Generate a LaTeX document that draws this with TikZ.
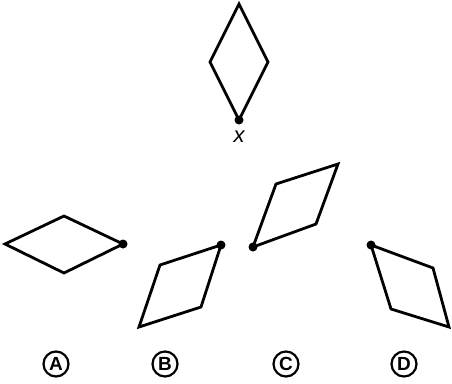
\documentclass[tikz,border=0pt]{standalone}
\usepackage{fontspec}
\setsansfont{Liberation Sans}
\usetikzlibrary{positioning}

\begin{document}
\begin{tikzpicture}[x=1pt,y=-1pt,line width=2.8pt,line join=miter,
    pivot/.style={circle,fill,inner sep=0pt,minimum size=9pt},
    choice/.style={circle,draw,line width=2.2pt,minimum size=25pt,inner sep=0pt,font=\sffamily\bfseries\fontsize{19}{19}\selectfont}]

            \useasboundingbox (0,0) rectangle (452,383);

            % original shape
            \coordinate (x1) at (239,4);
            \coordinate (x2) at (210,62);
            \coordinate (x) at (239,120);
            \coordinate (x4) at (268,62);
            \draw (x1) -- (x2) -- (x) -- (x4) -- cycle;
            \node[pivot] (px) at (x) {};
            \node[font=\sffamily\itshape\fontsize{22}{22}\selectfont, inner sep=0pt] (lx) [below=4pt of px] {x};

            % option A
            \coordinate (a1) at (123,244);
            \coordinate (a2) at (64,216);
            \coordinate (a3) at (5,244);
            \coordinate (a4) at (64,273);
            \draw (a1) -- (a2) -- (a3) -- (a4) -- cycle;
            \node[pivot] (pa) at (a1) {};

            % option B
            \coordinate (b1) at (221,245);
            \coordinate (b2) at (160,265);
            \coordinate (b3) at (139,327);
            \coordinate (b4) at (201,307);
            \draw (b1) -- (b2) -- (b3) -- (b4) -- cycle;
            \node[pivot] (pb) at (b1) {};

            % option C
            \coordinate (c1) at (253,247);
            \coordinate (c2) at (276,184);
            \coordinate (c3) at (338,164);
            \coordinate (c4) at (316,224);
            \draw (c1) -- (c2) -- (c3) -- (c4) -- cycle;
            \node[pivot] (pc) at (c1) {};

            % option D
            \coordinate (d1) at (371,245);
            \coordinate (d2) at (433,268);
            \coordinate (d3) at (449,327);
            \coordinate (d4) at (391,309);
            \draw (d1) -- (d2) -- (d3) -- (d4) -- cycle;
            \node[pivot] (pd) at (d1) {};

            % labels
            \node[choice] (A) at (56,364) {A};
            \node[choice] (B) at (165,364) {B};
            \node[choice] (C) at (286,364) {C};
            \node[choice] (D) at (404,364) {D};

        \end{tikzpicture}
\end{document}
